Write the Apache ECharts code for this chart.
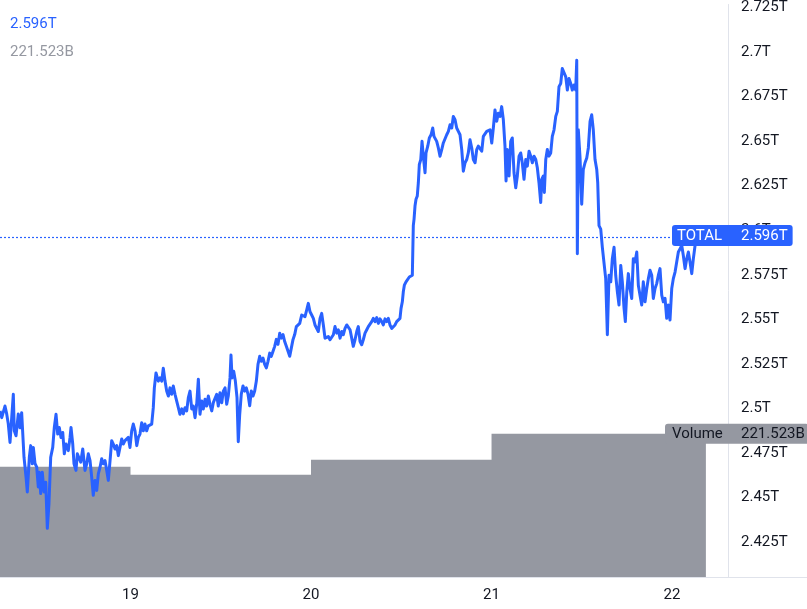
<!DOCTYPE html>
<html><head><meta charset="utf-8">
<script src="https://cdn.jsdelivr.net/npm/echarts@6/dist/echarts.min.js"></script>
<style>html,body{margin:0;padding:0;background:#fff}#c{width:807px;height:609px}</style>
</head><body><div id="c"></div>
<script>
// time in hours counted from day 18, 00:00 ; values in billions (B)
const hours = [
6.65,6.88,7.31,7.54,7.75,7.98,8.20,8.42,8.55,8.78,9.08,9.31,9.53,9.84,10.11,10.28,10.55,10.73,10.94,11.08,
11.30,11.53,11.74,11.87,12.06,12.27,12.50,12.73,12.94,13.16,13.39,13.66,13.87,14.10,14.32,14.53,14.76,14.99,15.20,15.42,
15.73,15.96,16.09,16.32,16.49,16.75,16.93,17.19,17.38,17.65,17.95,18.18,18.39,18.62,18.84,19.05,19.28,19.51,19.72,19.95,
20.17,20.38,20.61,20.84,21.05,21.28,21.50,21.71,21.94,22.17,22.38,22.60,22.83,23.04,23.27,23.50,23.71,23.93,24.16,24.37,
24.60,24.83,25.04,25.26,25.49,25.70,25.93,26.15,26.37,26.59,26.82,27.03,27.17,27.39,
27.48,27.70,27.92,28.15,28.36,28.59,28.81,29.03,29.25,29.48,29.69,29.92,30.14,30.36,30.58,30.81,31.02,31.25,31.47,31.69,
31.91,32.14,32.35,32.58,32.80,33.02,33.24,33.47,33.68,33.91,34.13,34.35,34.57,34.80,35.01,35.24,35.46,35.67,35.90,36.13,
36.34,36.57,36.79,37.00,37.23,37.36,37.50,37.72,37.94,38.16,38.33,38.52,38.73,38.96,39.18,39.40,39.62,39.85,40.06,40.29,
40.51,40.73,40.95,41.18,41.39,41.62,41.84,42.06,42.28,42.51,42.72,42.95,43.17,43.39,43.61,43.84,44.05,44.28,44.50,44.72,
44.94,45.17,45.38,45.61,45.83,46.05,46.27,46.50,
46.76,46.98,47.20,47.43,47.64,47.87,48.09,48.31,48.53,48.76,48.97,49.20,49.42,49.64,49.86,50.09,50.30,50.53,50.75,50.97,
51.19,51.42,51.63,51.86,52.08,52.29,52.52,52.75,52.96,53.19,53.41,53.62,53.85,54.08,54.29,54.52,54.74,54.95,55.18,55.41,
55.62,55.84,56.07,56.28,56.51,56.74,56.95,57.17,57.40,57.61,57.84,58.07,58.28,58.50,58.73,58.94,59.17,59.39,59.61,59.83,
59.97,60.14,60.27,60.41,60.63,60.86,61.07,61.30,61.47,61.60,61.70,61.83,61.96,62.13,62.27,62.40,62.59,62.76,62.93,63.16,
63.29,63.52,63.73,63.96,64.18,64.35,64.53,64.71,64.93,65.15,65.38,65.59,65.82,66.04,66.26,66.48,66.71,66.92,67.15,67.37,
67.59,67.81,68.04,68.25,68.48,68.70,68.91,69.14,69.37,69.58,69.81,70.03,70.24,70.47,70.70,70.91,71.14,71.36,71.57,71.80,
72.03,72.24,72.46,72.69,72.90,
73.13,73.35,73.57,73.79,73.93,74.10,74.33,74.55,74.76,74.99,75.22,75.43,75.66,75.88,76.09,76.32,76.55,76.76,76.99,77.21,
77.42,77.65,77.88,78.09,78.31,78.54,78.67,78.89,79.02,79.21,79.42,79.64,79.87,80.08,80.31,80.54,80.75,80.97,81.20,81.41,
81.64,81.87,82.08,82.30,82.53,82.74,82.97,83.19,83.33,83.41,83.54,83.77,83.99,84.20,84.43,84.66,84.87,85.10,85.32,85.53,
85.76,85.99,86.12,86.29,86.52,86.73,86.96,87.18,87.40,87.62,87.85,88.06,88.29,88.51,88.73,88.95,89.18,89.39,89.62,89.79,
89.98,90.19,90.41,90.64,90.85,91.08,91.31,91.52,91.74,91.97,92.18,92.41,92.64,92.85,93.07,93.30,93.51,93.74,93.96,94.18,
94.40,94.63,94.84,95.07,95.29,95.51,95.73,95.96,96.17,96.40,96.62,96.84,97.06,97.29,97.50,97.73,97.95,98.17,98.39,98.62,
98.83,99.06,99.32
];
const totalB = [
2498.7,2494.9,2501.4,2497.0,2491.4,2481.0,2482.0,2508.0,2487.5,2484.7,2497.0,2489.2,2497.7,2472.7,2461.5,2453.2,2472.7,2479.2,2469.0,2478.2,
2469.2,2467.1,2456.0,2464.3,2452.3,2464.3,2453.2,2458.7,2432.8,2446.7,2472.7,2478.2,2489.4,2496.8,2485.7,2489.4,2483.8,2486.6,2474.6,2480.1,
2476.4,2483.8,2489.4,2480.1,2469.0,2465.3,2474.6,2475.4,2469.9,2477.3,2465.3,2469.0,2474.6,2470.8,2461.5,2451.3,2459.7,2454.1,2463.4,2467.1,
2471.8,2469.0,2470.8,2465.3,2459.7,2470.8,2482.0,2480.1,2477.3,2479.2,2473.6,2472.7,2482.9,2480.1,2482.0,2481.0,2483.8,2478.2,2487.5,2491.3,
2487.5,2479.2,2483.8,2485.7,2492.1,2487.5,2491.3,2487.5,2490.3,2489.4,2491.3,2500.5,2511.6,2520.0,
2520.9,2515.4,2517.2,2515.4,2522.6,2515.4,2509.8,2507.0,2511.6,2508.0,2512.6,2508.0,2507.0,2500.5,2496.8,2499.8,2497.0,2500.5,2498.7,2506.1,
2509.8,2499.8,2501.4,2494.9,2502.4,2516.5,2496.8,2504.2,2499.8,2505.2,2501.4,2507.0,2502.4,2498.7,2503.3,2502.4,2508.0,2501.4,2508.9,2503.3,
2509.8,2511.6,2502.4,2507.0,2517.2,2530.0,2517.2,2520.9,2515.4,2506.1,2481.4,2496.8,2508.1,2512.7,2509.8,2511.6,2508.1,2501.6,2509.8,2507.0,
2509.8,2515.4,2524.8,2529.3,2526.5,2528.3,2524.8,2522.8,2526.5,2531.1,2529.3,2532.1,2534.9,2538.8,2536.0,2542.3,2539.5,2541.5,2537.6,2534.9,
2536.0,2529.3,2533.9,2538.8,2541.5,2546.0,2545.0,2547.8,
2552.5,2553.4,2551.6,2555.3,2559.0,2554.3,2552.5,2550.6,2546.9,2546.0,2543.2,2550.6,2553.4,2546.9,2539.5,2538.6,2540.4,2538.6,2539.5,2541.4,
2546.0,2542.3,2544.2,2539.5,2543.2,2541.4,2545.0,2546.9,2547.8,2544.2,2539.5,2534.9,2538.6,2543.2,2546.0,2537.6,2535.8,2538.6,2542.3,2544.2,
2546.0,2546.9,2548.8,2550.6,2548.8,2551.0,2547.8,2550.3,2548.8,2546.9,2550.3,2548.8,2550.6,2546.9,2545.0,2544.7,2546.9,2548.8,2549.7,2550.6,
2556.2,2559.9,2565.5,2569.2,2571.1,2572.0,2573.8,2572.9,2574.8,2602.6,2606.3,2613.8,2617.4,2619.3,2626.7,2636.9,2639.7,2649.9,2641.6,2632.3,
2643.4,2647.2,2651.8,2653.6,2657.4,2652.7,2652.7,2649.9,2646.2,2641.6,2645.3,2649.0,2648.1,2653.6,2655.5,2659.2,2657.4,2663.9,2662.0,2657.4,
2655.5,2653.6,2645.3,2633.2,2637.9,2639.7,2643.4,2650.8,2646.2,2639.7,2637.9,2645.3,2647.2,2646.2,2644.4,2652.7,2652.7,2655.5,2656.4,2656.4,
2649.0,2657.4,2667.5,2661.2,2665.7,
2663.9,2669.4,2662.0,2647.2,2627.7,2645.3,2630.5,2649.9,2651.8,2632.3,2623.9,2630.5,2641.6,2643.4,2637.9,2628.6,2639.7,2636.0,2644.4,2641.6,
2637.9,2641.6,2639.7,2635.1,2626.7,2615.6,2628.6,2630.5,2621.2,2639.7,2645.3,2641.6,2643.4,2652.7,2656.4,2663.9,2666.7,2680.6,2682.4,2690.8,
2689.8,2686.1,2678.7,2685.2,2682.4,2678.7,2681.5,2678.7,2695.4,2586.8,2656.4,2640.6,2614.6,2634.1,2637.9,2640.6,2646.2,2661.1,2664.8,2656.4,
2639.7,2634.1,2626.7,2602.6,2600.7,2590.5,2589.6,2572.9,2541.4,2574.8,2571.1,2584.0,2590.5,2574.8,2565.5,2558.1,2580.3,2571.1,2556.2,2548.8,
2565.5,2575.7,2567.3,2561.8,2584.0,2582.2,2587.8,2569.2,2563.6,2558.1,2571.1,2559.9,2567.3,2572.9,2577.6,2574.8,2561.8,2567.3,2570.1,2574.8,
2578.5,2563.6,2559.9,2561.8,2550.6,2558.1,2549.7,2567.3,2572.9,2576.6,2582.2,2587.8,2589.6,2591.5,2585.9,2578.5,2584.0,2587.8,2582.2,2575.7,
2584.0,2591.5,2596.0
];
const dayTickHours = [24, 48, 72, 96];
const dayLabels = ['19', '20', '21', '22'];
const priceTicksB = [2425, 2450, 2475, 2500, 2525, 2550, 2575, 2600, 2625, 2650, 2675, 2700, 2725];
const volStartHour = [0, 24, 48, 72];
const volEndHour = 100.5;
const volumeB = [170.8, 158.4, 181.5, 221.523];
const seriesName = 'TOTAL';

const n = Math.min(hours.length, totalB.length);
const lineData = [];
for (let i = 0; i < n; i++) lineData.push([hours[i], totalB[i]]);
const volData = volStartHour.map((h, i) => [h, volumeB[i]]);
volData.push([volEndHour, volumeB[volumeB.length - 1]]);

const lastTotal = totalB[n - 1];
const lastVol = volumeB[volumeB.length - 1];
const fmtT = v => parseFloat((v / 1000).toFixed(3)) + 'T';
const lastTotalTxt = (lastTotal / 1000).toFixed(3) + 'T';
const lastVolTxt = lastVol.toFixed(3) + 'B';

const BLUE = '#2962ff', GREY = '#9598a1', TXT = '#131722', AX = '#e0e3eb';
const FONT = 'Roboto, "Liberation Sans", sans-serif';

const chart = echarts.init(document.getElementById('c'), null, {renderer: 'canvas'});
chart.setOption({
  animation: false,
  backgroundColor: '#ffffff',
  textStyle: {fontFamily: FONT},
  grid: {left: 0, right: 79, top: 0, bottom: 32, containLabel: false},
  xAxis: {
    type: 'value', min: 6.649, max: 103.44,
    axisLine: {show: true, lineStyle: {color: AX, width: 1}},
    axisTick: {show: false}, splitLine: {show: false},
    axisLabel: {
      customValues: dayTickHours,
      formatter: v => dayLabels[dayTickHours.indexOf(v)] || '',
      color: TXT, fontSize: 15, margin: 11, fontFamily: FONT
    }
  },
  yAxis: [{
    type: 'value', position: 'right', min: 2405.5, max: 2726.7,
    axisLine: {show: true, lineStyle: {color: AX, width: 1}},
    axisTick: {show: false}, splitLine: {show: false},
    axisLabel: {
      customValues: priceTicksB, formatter: v => fmtT(v),
      color: TXT, fontSize: 15, margin: 13, fontFamily: FONT,
      showMinLabel: true, showMaxLabel: true
    }
  }, {
    type: 'value', min: 0, max: Math.max(...volumeB) * 4, show: false
  }],
  graphic: [
    {type: 'text', left: 10, top: 17, style: {text: lastTotalTxt, fill: BLUE, font: '15px ' + FONT}},
    {type: 'text', left: 10, top: 45, style: {text: lastVolTxt, fill: GREY, font: '15px ' + FONT}},
    {type: 'line', shape: {x1: 728, y1: 577.5, x2: 807, y2: 577.5}, style: {stroke: AX, lineWidth: 1}}
  ],
  series: [{
    name: 'Volume', type: 'line', yAxisIndex: 1, step: 'end', data: volData,
    symbol: 'none', lineStyle: {width: 0, color: GREY}, areaStyle: {color: GREY, opacity: 1},
    z: 1, silent: true,
    markLine: {
      symbol: 'none', silent: true, animation: false,
      lineStyle: {width: 0, color: 'rgba(0,0,0,0)'},
      data: [{yAxis: lastVol}],
      label: {
        show: true, position: 'end', offset: [-68, 0],
        formatter: '{a|Volume}{b|' + lastVolTxt + '}',
        backgroundColor: GREY, borderRadius: 3, padding: [3, 4, 2, 7],
        rich: {
          a: {width: 69, color: TXT, fontSize: 15, fontFamily: FONT, lineHeight: 15},
          b: {color: TXT, fontSize: 15, fontFamily: FONT, lineHeight: 15}
        }
      }
    }
  }, {
    name: seriesName, type: 'line', data: lineData, yAxisIndex: 0,
    showSymbol: false, symbol: 'none', sampling: null,
    lineStyle: {width: 3, color: BLUE, join: 'round'},
    z: 3,
    markLine: {
      symbol: 'none', silent: true, animation: false,
      lineStyle: {type: [2, 2], width: 1.2, color: BLUE, opacity: 1},
      data: [{yAxis: lastTotal}],
      label: {
        show: true, position: 'end', offset: [-61, -2],
        formatter: '{a|' + seriesName + '}{b|' + lastTotalTxt + '}',
        backgroundColor: BLUE, borderRadius: 3, padding: [3, 5, 2, 5],
        rich: {
          a: {width: 64, color: '#fff', fontSize: 15, fontFamily: FONT, lineHeight: 16},
          b: {color: '#fff', fontSize: 15, fontFamily: FONT, lineHeight: 16}
        }
      }
    }
  }]
});
</script></body></html>
